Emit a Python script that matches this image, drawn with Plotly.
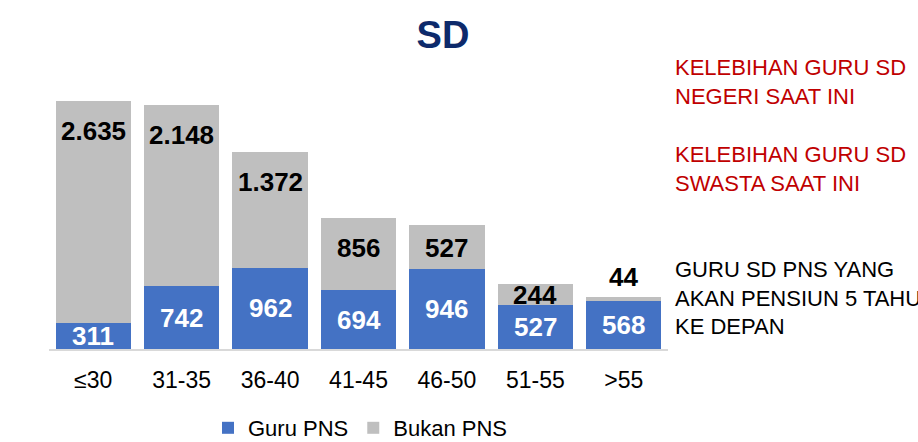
import plotly.graph_objects as go

categories = ["≤30", "31-35", "36-40", "41-45", "46-50", "51-55", ">55"]
guru_pns = [311, 742, 962, 694, 946, 527, 568]
bukan_pns = [2635, 2148, 1372, 856, 527, 244, 44]
blue_labels = ["311", "742", "962", "694", "946", "527", "568"]
gray_labels = ["2.635", "2.148", "1.372", "856", "527", "244", "44"]

FONT = "Arial, Liberation Sans, sans-serif"
W, H = 918, 442
ML, MR, MT, MB = 49, 250, 96, 93
YMAX = 3000
px_per_unit = (H - MT - MB) / YMAX

fig = go.Figure()
fig.add_trace(go.Bar(x=categories, y=guru_pns, name="Guru PNS",
                     marker=dict(color="#4472C4", line=dict(width=0))))
fig.add_trace(go.Bar(x=categories, y=bukan_pns, name="Bukan PNS",
                     marker=dict(color="#BFBFBF", line=dict(width=0))))

annotations = []
for c, b, g, bl, gl in zip(categories, guru_pns, bukan_pns, blue_labels, gray_labels):
    annotations.append(dict(x=c, y=b / 2, xref="x", yref="y", text=bl, showarrow=False,
                            font=dict(family=FONT, size=26, color="white", weight="bold"),
                            xanchor="center", yanchor="middle"))
    seg_px = g * px_per_unit
    total = b + g
    if seg_px >= 50:
        a = dict(y=total, yanchor="middle", yshift=-30)
    elif seg_px >= 15:
        a = dict(y=b + g / 2, yanchor="middle", yshift=-1)
    else:
        a = dict(y=total, yanchor="bottom", yshift=3)
    a.update(x=c, xref="x", yref="y", text=gl, showarrow=False, xanchor="center",
             font=dict(family=FONT, size=26, color="black", weight="bold"))
    annotations.append(a)

side_x = (673 - ML) / (W - ML - MR)
def ypaper(py):
    return (H - MB - py) / (H - MT - MB)

side_font = 22
annotations.append(dict(x=side_x, y=ypaper(82), xref="paper", yref="paper", showarrow=False,
                        xanchor="left", yanchor="middle", align="left",
                        text="KELEBIHAN GURU SD<br>NEGERI SAAT INI",
                        font=dict(family=FONT, size=side_font, color="#C00000")))
annotations.append(dict(x=side_x, y=ypaper(169), xref="paper", yref="paper", showarrow=False,
                        xanchor="left", yanchor="middle", align="left",
                        text="KELEBIHAN GURU SD<br>SWASTA SAAT INI",
                        font=dict(family=FONT, size=side_font, color="#C00000")))
annotations.append(dict(x=side_x, y=ypaper(298), xref="paper", yref="paper", showarrow=False,
                        xanchor="left", yanchor="middle", align="left",
                        text="GURU SD PNS YANG<br>AKAN PENSIUN 5 TAHUN<br>KE DEPAN",
                        font=dict(family=FONT, size=side_font, color="black")))

fig.update_layout(
    width=W, height=H,
    barmode="stack", bargap=0.15,
    plot_bgcolor="white", paper_bgcolor="white",
    margin=dict(l=ML, r=MR, t=MT, b=MB),
    title=dict(text="<b>SD</b>", x=443 / W, xanchor="center", xref="container",
               y=1 - 35 / H, yanchor="middle", yref="container",
               font=dict(family=FONT, size=38, color="#0D2A6B")),
    xaxis=dict(showline=True, linecolor="#D9D9D9", linewidth=2, showgrid=False,
               ticks="outside", ticklen=9, tickcolor="rgba(0,0,0,0)",
               tickfont=dict(family=FONT, size=23, color="black")),
    yaxis=dict(range=[0, YMAX], visible=False, showgrid=False),
    legend=dict(orientation="h", xref="container", yref="container",
                x=360 / W, xanchor="center", y=1 - 428 / H, yanchor="middle",
                font=dict(family=FONT, size=22, color="black"), traceorder="normal"),
    annotations=annotations,
    showlegend=True,
)

fig.write_html("out.html", config={"displayModeBar": False},
               post_script="document.body.style.margin='0';document.body.style.padding='0';")
